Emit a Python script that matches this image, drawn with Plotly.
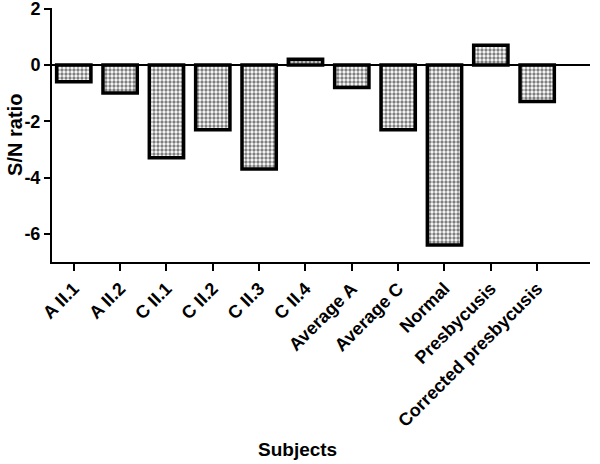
import plotly.graph_objects as go

categories = ["A II.1", "A II.2", "C II.1", "C II.2", "C II.3", "C II.4",
              "Average A", "Average C", "Normal", "Presbycusis", "Corrected presbycusis"]
values = [-0.6, -1.0, -3.3, -2.3, -3.7, 0.2, -0.8, -2.3, -6.4, 0.7, -1.3]
y_ticks = [-6, -4, -2, 0, 2]

fig = go.Figure()
fig.add_trace(go.Bar(
    x=list(range(len(categories))), y=values, width=0.74,
    marker=dict(color="white",
                line=dict(color="black", width=3.5),
                pattern=dict(shape=".", fgcolor="black", bgcolor="white",
                             size=4, solidity=0.55, fillmode="overlay")),
))
fig.add_hline(y=0, line=dict(color="black", width=2), layer="above")

L, R, T, B = 52, 10, 8, 202
fig.update_layout(
    width=600, height=464, margin=dict(l=L, r=R, t=T, b=B),
    plot_bgcolor="white", paper_bgcolor="white", showlegend=False,
    font=dict(family="Liberation Sans, Arial", size=14, color="black"),
    xaxis=dict(range=[-0.47, 11.14], tickmode="array",
               tickvals=list(range(len(categories))),
               ticktext=["<b>%s</b>" % c for c in categories],
               tickangle=-45, showline=True, linecolor="black", linewidth=2,
               ticks="outside", ticklen=7, tickwidth=2, tickcolor="black",
               showgrid=False, zeroline=False, tickfont=dict(size=18),
               automargin=False, ticklabeloverflow="allow"),
    yaxis=dict(range=[-7, 2.02], tickmode="array", tickvals=y_ticks,
               ticktext=["<b>%d</b>" % v for v in y_ticks],
               showline=True, linecolor="black", linewidth=2,
               ticks="outside", ticklen=6, tickwidth=2, tickcolor="black",
               showgrid=False, zeroline=False, tickfont=dict(size=18),
               automargin=False, ticklabeloverflow="allow"),
    annotations=[
        dict(text="<b>Subjects</b>", x=0.457, y=-0.74, xref="paper", yref="paper",
             showarrow=False, font=dict(size=19), xanchor="center", yanchor="middle"),
        dict(text="<b>S/N ratio</b>", x=-0.069, y=0.5, xref="paper", yref="paper",
             showarrow=False, font=dict(size=20), textangle=-90,
             xanchor="center", yanchor="middle"),
    ],
)
fig.write_html("out.html", config={"displayModeBar": False},
               post_script="document.body.style.margin='0';")
